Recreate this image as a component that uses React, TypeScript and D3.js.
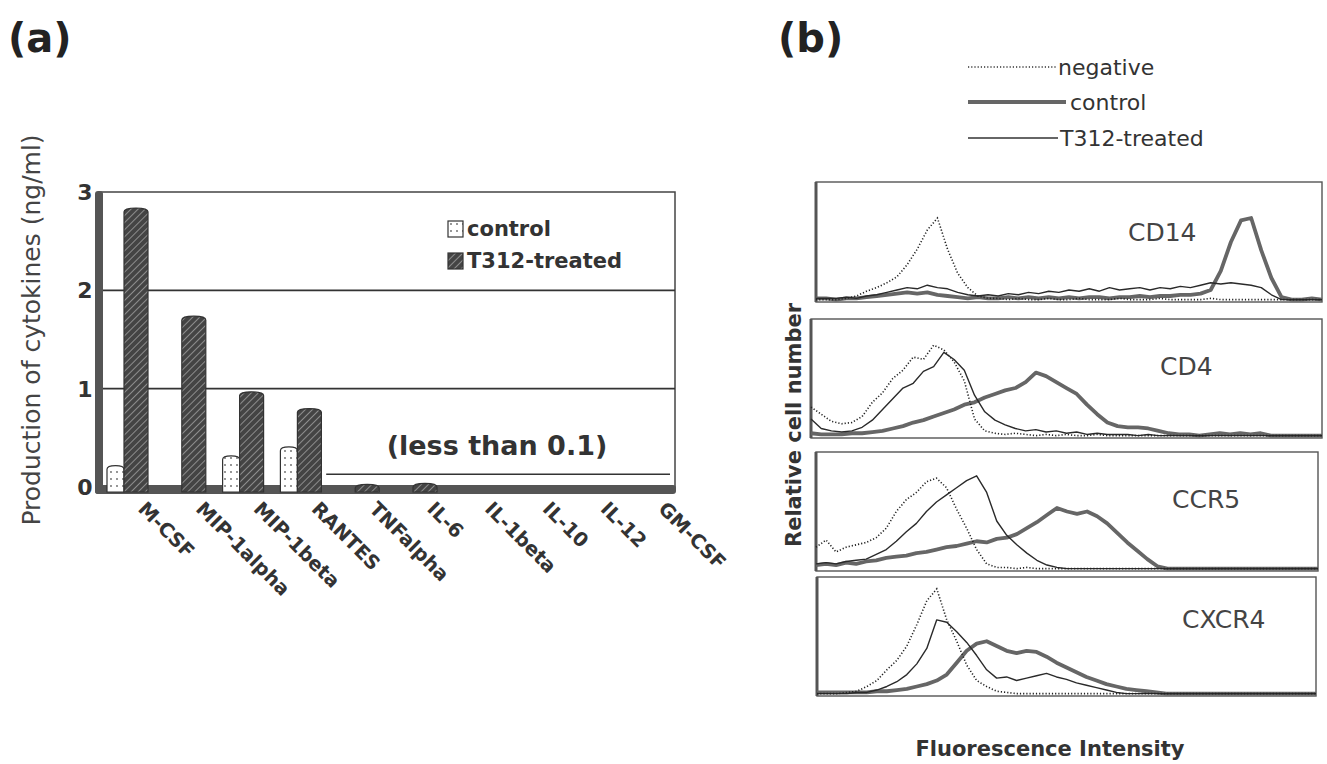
import * as d3 from 'd3';

// ---- panel (a): cytokine production (ng/ml) ----
const categories = ['M-CSF', 'MIP-1alpha', 'MIP-1beta', 'RANTES', 'TNFalpha', 'IL-6', 'IL-1beta', 'IL-10', 'IL-12', 'GM-CSF'];
const controlValues = [0.22, 0, 0.32, 0.41, 0, 0, 0, 0, 0, 0];
const treatedValues = [2.84, 1.74, 0.97, 0.8, 0.03, 0.04, 0, 0, 0, 0];
const yTicks = [0, 1, 2, 3];
const lessThanLevel = 0.13;
const barLegend = ['control', 'T312-treated'];

// ---- panel (b): flow cytometry histograms (relative cell number, % of panel) ----
const markers = ['CD14', 'CD4', 'CCR5', 'CXCR4'];
const lineLegend = ['negative', 'control', 'T312-treated'];
const channels = d3.range(0, 101, 2); // fluorescence channel grid

const negCD14 = [2,2,2,3,5,9,12,16,21,31,44,60,70,44,24,12,5,3,3,2,3,2,2,3,2,2,3,2,2,2,3,2,2,2,3,2,2,2,2,3,2,2,2,2,2,2,2,2,2,2,2];
const ctlCD14 = [3,3,2,3,3,4,5,6,7,8,7,8,6,5,4,3,4,3,3,4,3,4,3,4,3,4,3,4,4,3,4,4,5,4,5,5,6,6,7,10,26,50,68,70,43,20,4,2,2,3,2];
const trtCD14 = [3,3,3,4,3,5,6,8,10,12,11,14,12,11,8,6,5,6,5,7,6,8,7,9,8,10,9,11,9,12,10,11,12,10,12,11,13,12,14,16,15,16,15,14,12,6,2,2,2,2,2];

const negCD4 = [26,20,14,12,13,18,30,38,50,57,68,66,78,74,64,48,16,6,4,3,4,3,2,3,2,3,2,2,3,2,2,2,2,2,2,2,2,2,2,2,2,2,2,2,2,2,2,2,2,2,2];
const ctlCD4 = [4,3,3,3,4,4,5,6,8,10,13,15,18,21,24,28,30,34,37,40,42,47,55,52,47,42,37,28,20,13,10,9,9,8,6,4,3,3,2,3,4,3,4,3,4,2,2,2,2,2,2];
const trtCD4 = [16,8,6,5,6,9,15,24,33,42,46,56,60,72,66,57,36,22,15,11,8,6,7,5,6,4,5,3,4,3,3,3,2,3,2,2,2,2,2,2,2,2,2,2,2,2,2,2,2,2,2];

const negCCR5 = [20,26,16,20,22,24,28,36,50,60,66,75,78,70,52,36,18,6,3,3,2,3,2,2,2,2,2,2,2,2,2,2,2,2,2,2,2,2,2,2,2,2,2,2,2,2,2,2,2,2,2];
const ctlCCR5 = [5,6,5,7,6,8,9,11,12,13,15,16,18,20,21,23,25,24,27,28,31,36,41,47,53,50,48,50,46,40,32,24,17,10,4,2,2,2,2,2,2,2,2,2,2,2,2,2,2,2,2];
const trtCCR5 = [6,7,6,8,9,10,14,18,25,33,40,50,58,64,70,76,80,66,42,30,22,15,9,5,3,2,2,2,2,2,2,2,2,2,2,2,2,2,2,2,2,2,2,2,2,2,2,2,2,2,2];

const negCXCR4 = [2,2,2,3,4,8,13,22,30,42,60,80,90,64,46,26,13,8,4,3,2,2,2,2,2,2,2,2,2,2,2,2,2,2,2,2,2,2,2,2,2,2,2,2,2,2,2,2,2,2,2];
const ctlCXCR4 = [3,3,3,3,3,3,4,4,5,6,8,10,13,18,28,38,44,46,42,38,36,38,37,33,28,24,20,16,13,10,8,6,5,4,3,2,2,2,2,2,2,2,2,2,2,2,2,2,2,2,2];
const trtCXCR4 = [2,2,2,2,3,3,5,8,12,18,27,40,64,62,54,45,34,22,15,16,13,15,17,19,16,14,11,9,7,5,3,2,2,2,2,2,2,2,2,2,2,2,2,2,2,2,2,2,2,2,2];

const negativeSeries = [negCD14, negCD4, negCCR5, negCXCR4];
const controlSeries = [ctlCD14, ctlCD4, ctlCCR5, ctlCXCR4];
const treatedSeries = [trtCD14, trtCD4, trtCCR5, trtCXCR4];

// panel boxes and label spots (layout only)
const boxes = [
  { l: 816, r: 1322, t: 182, b: 302, lx: 1128, ly: 241 },
  { l: 811, r: 1322, t: 319, b: 438, lx: 1160, ly: 375 },
  { l: 816, r: 1318, t: 452, b: 571, lx: 1172, ly: 508 },
  { l: 817, r: 1316, t: 577, b: 696, lx: 1182, ly: 628 },
];

const FONT = '"DejaVu Sans", Arial, sans-serif';
const INK = '#333';

function capBar(x0: number, w: number, yt: number, yb: number) {
  return `M${x0},${yb}V${yt + 4}C${x0},${yt - 1} ${x0 + w},${yt - 1} ${x0 + w},${yt + 4}V${yb}Z`;
}

export default function App() {
  const x = d3.scaleBand<string>().domain(categories).range([99, 677]);
  const y = d3.scaleLinear().domain([0, 3]).range([487, 192]);
  const floor = y(0);

  return (
    <svg width={1327} height={764} style={{ position: 'absolute', left: 0, top: 0, background: '#fff' }} fontFamily={FONT}>
      <defs>
        <pattern id="hatch" width="5" height="5" patternUnits="userSpaceOnUse" patternTransform="rotate(45)">
          <rect width="5" height="5" fill="#444" />
          <line x1="0" y1="0" x2="0" y2="5" stroke="#a0a0a0" strokeWidth="1.6" />
        </pattern>
        <pattern id="dots" width="6" height="7" patternUnits="userSpaceOnUse">
          <rect width="6" height="7" fill="#fff" />
          <circle cx="3" cy="3" r="0.9" fill="#666" />
        </pattern>
      </defs>

      {/* ---------- (a) ---------- */}
      <text x={8} y={52} fontSize={40} fontWeight="bold" fill="#222">(a)</text>

      {/* plot frame */}
      <rect x={99} y={192} width={576} height={298} fill="none" stroke="#444" strokeWidth={1.5} />
      {yTicks.filter((t) => t > 0 && t < 3).map((t) => (
        <line key={t} x1={103} x2={675} y1={y(t)} y2={y(t)} stroke="#333" strokeWidth={1.6} />
      ))}
      <rect x={95} y={floor - 2} width={581} height={9} rx={3} fill="#555" />
      <rect x={95} y={191} width={8} height={303} rx={3} fill="#555" />

      {/* bars */}
      {categories.map((c, i) => {
        const bx = x(c)!;
        return (
          <g key={c}>
            {controlValues[i] > 0 && (
              <path d={capBar(bx + 8, 17, y(controlValues[i]), floor + 5)} fill="url(#dots)" stroke="#333" strokeWidth={1.2} />
            )}
            {treatedValues[i] > 0 && (
              <path d={capBar(bx + 25, 24, y(treatedValues[i]), floor + 5)} fill="url(#hatch)" stroke="#333" strokeWidth={1.2} />
            )}
          </g>
        );
      })}

      {/* y ticks and title */}
      {yTicks.map((t) => (
        <text key={t} x={85} y={y(t) + 8} textAnchor="middle" fontSize={22} fontWeight="bold" fill={INK}>{t}</text>
      ))}
      <text transform="translate(40,330) rotate(-90)" textAnchor="middle" fontSize={25} fill="#444">
        Production of cytokines (ng/ml)
      </text>

      {/* category labels */}
      {categories.map((c) => (
        <text key={c} transform={`translate(${x(c)! + 38},510) rotate(45)`} fontSize={19.5} fontWeight="bold" fill={INK}>{c}</text>
      ))}

      {/* legend */}
      {barLegend.map((name, i) => (
        <g key={name} transform={`translate(448,${221 + i * 32})`}>
          <rect width={15} height={16} fill={i === 0 ? 'url(#dots)' : 'url(#hatch)'} stroke="#333" strokeWidth={1.2} />
          <text x={19} y={15} fontSize={21} fontWeight="bold" fill={INK}>{name}</text>
        </g>
      ))}

      {/* (less than 0.1) */}
      <text x={497} y={455} textAnchor="middle" fontSize={27} fontWeight="bold" fill={INK}>(less than 0.1)</text>
      <line x1={x('TNFalpha')! - 4} x2={670} y1={y(lessThanLevel)} y2={y(lessThanLevel)} stroke="#333" strokeWidth={1.6} />

      {/* ---------- (b) ---------- */}
      <text x={778} y={52} fontSize={40} fontWeight="bold" fill="#222">(b)</text>

      {lineLegend.map((name, i) => {
        const ly = [67, 102, 138][i];
        const lx2 = [1056, 1066, 1058][i];
        const tx = [1058, 1070, 1060][i];
        return (
          <g key={name}>
            <line x1={968} x2={lx2} y1={ly} y2={ly}
              stroke={i === 1 ? '#666' : '#333'}
              strokeWidth={i === 1 ? 4 : i === 0 ? 1.6 : 1.4}
              strokeDasharray={i === 0 ? '1.2 2' : undefined} />
            <text x={tx} y={ly + 8} fontSize={22} fill={INK}>{name}</text>
          </g>
        );
      })}

      {boxes.map((bx, k) => {
        const sx = d3.scaleLinear().domain([0, 100]).range([bx.l, bx.r]);
        const sy = d3.scaleLinear().domain([0, 100]).range([bx.b, bx.t]);
        const line = d3.line<number>().x((_, i) => sx(channels[i])).y((d) => sy(d));
        return (
          <g key={markers[k]}>
            <rect x={bx.l} y={bx.t} width={bx.r - bx.l} height={bx.b - bx.t} fill="none" stroke="#555" strokeWidth={1.4} />
            <line x1={bx.l} x2={bx.l} y1={bx.t} y2={bx.b} stroke="#555" strokeWidth={3} />
            <path d={line(controlSeries[k])!} fill="none" stroke="#666" strokeWidth={3.8} strokeLinejoin="round" />
            <path d={line(treatedSeries[k])!} fill="none" stroke="#2a2a2a" strokeWidth={1.4} strokeLinejoin="round" />
            <path d={line(negativeSeries[k])!} fill="none" stroke="#222" strokeWidth={1.6} strokeDasharray="1.2 2" />
            <text x={bx.lx} y={bx.ly} fontSize={25} fill="#444">{markers[k]}</text>
          </g>
        );
      })}

      <text transform="translate(801,425) rotate(-90)" textAnchor="middle" fontSize={21} fontWeight="bold" fill={INK}>
        Relative cell number
      </text>
      <text x={1050} y={756} textAnchor="middle" fontSize={21} fontWeight="bold" fill={INK}>
        Fluorescence Intensity
      </text>
    </svg>
  );
}
